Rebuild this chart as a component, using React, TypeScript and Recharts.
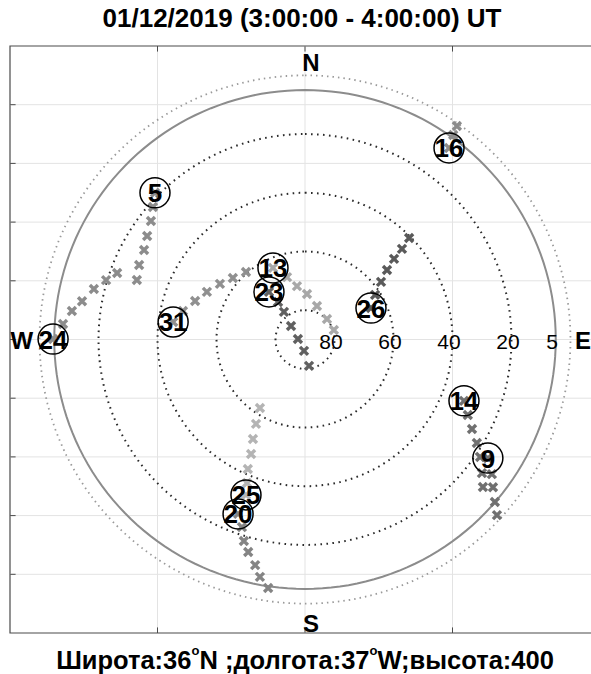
import React from 'react';
import {
  ComposedChart,
  XAxis,
  YAxis,
  Line,
  Scatter,
  ReferenceLine,
  ReferenceArea,
} from 'recharts';

// ---- satellite passes (azimuth / elevation in degrees), first entry = labelled epoch ----
const sat24Az = [270.1, 273.7, 277.0, 279.8, 283.5, 286.7, 289.6];
const sat24El = [4.6, 7.8, 10.4, 13.3, 16.4, 19.6, 22.4];

const sat5Az = [314.5, 311.2, 307.7, 303.4, 299.2, 294.3, 289.6];
const sat5El = [18.7, 21.5, 24.0, 25.9, 27.5, 28.3, 29.5];

const sat31Az = [277.6, 283.2, 289.4, 296.0, 303.3, 310.6, 319.0];
const sat31El = [44.9, 47.5, 50.5, 53.0, 55.5, 57.8, 59.5];

const sat13Az = [336.0, 344.0, 351.5, 2.5, 19.6, 46.9, 71.8];
const sat13El = [63.3, 67.9, 71.6, 74.5, 77.9, 79.8, 79.7];

const sat23Az = [323.0, 324.4, 322.8, 314.1, 274.1, 185.0, 171.4];
const sat23El = [69.7, 74.3, 78.2, 83.4, 87.6, 86.1, 80.9];

const sat26Az = [64.4, 57.4, 52.7, 49.6, 47.7, 46.8, 45.6];
const sat26El = [65.2, 61.8, 57.6, 53.5, 49.2, 44.9, 40.6];

const sat16Az = [36.8, 35.8, 35.3];
const sat16El = [8.5, 4.1, 0.9];

const sat14Az = [111.2, 115.0, 118.3, 121.2, 124.0, 127.2, 129.8];
const sat14El = [32.2, 29.1, 25.7, 21.9, 18.4, 14.7, 11.5];

const sat9Az = [123.1, 125.9, 128.3, 130.7, 132.6];
const sat9El = [16.0, 11.8, 8.8, 5.1, 1.6];

const sat25Az = [200.7, 201.9, 203.7, 205.1, 207.5, 210.0, 213.2];
const sat25El = [33.4, 37.3, 41.8, 46.9, 51.8, 56.8, 62.1];

const sat20Az = [200.9, 198.5, 196.8, 194.9, 192.4, 190.7, 188.4];
const sat20El = [26.4, 22.6, 18.3, 15.1, 11.3, 7.7, 4.4];

const satellites = [
  { prn: '24', az: sat24Az, el: sat24El, color: '#8c8c8c' },
  { prn: '5', az: sat5Az, el: sat5El, color: '#8c8c8c' },
  { prn: '31', az: sat31Az, el: sat31El, color: '#909090' },
  { prn: '13', az: sat13Az, el: sat13El, color: '#a8a8a8' },
  { prn: '23', az: sat23Az, el: sat23El, color: '#606060' },
  { prn: '26', az: sat26Az, el: sat26El, color: '#5a5a5a' },
  { prn: '16', az: sat16Az, el: sat16El, color: '#8c8c8c' },
  { prn: '14', az: sat14Az, el: sat14El, color: '#707070' },
  { prn: '9', az: sat9Az, el: sat9El, color: '#707070' },
  { prn: '25', az: sat25Az, el: sat25El, color: '#b4b4b4' },
  { prn: '20', az: sat20Az, el: sat20El, color: '#848484' },
];

// ---- sky plot furniture ----
const dottedRings = [80, 60, 40, 20];
const maskElevation = 5;
const horizonElevation = 0;
const ringLabels = ['80', '60', '40', '20', '5'];
const ringLabelValues = [80, 60, 40, 20, 5];
const gridX = [-50, 0, 50];
const gridY = [-80, -60, -40, -20, 0, 20, 40, 60, 80];
const compass = [
  { x: 2.0, y: 94.5, label: 'N' },
  { x: 2.0, y: -96.8, label: 'S' },
  { x: -96, y: -0.5, label: 'W' },
  { x: 94.2, y: -0.5, label: 'E' },
];

const titleText = '01/12/2019 (3:00:00 - 4:00:00) UT';

const FONT = '"Liberation Sans", Arial, Helvetica, sans-serif';

// azimuth/elevation -> plane of the sky plot (zenith at origin, north up)
const project = (az: number, el: number) => {
  const r = 90 - el;
  const a = (az * Math.PI) / 180;
  return { x: r * Math.sin(a), y: r * Math.cos(a) };
};

const ringPoints = (el: number) => {
  const pts: { x: number; y: number }[] = [];
  for (let a = 0; a <= 360; a += 2) pts.push(project(a, el));
  return pts;
};

const trackPoints = (az: number[], el: number[]) => az.map((a, i) => project(a, el[i]));

const labelPoints = satellites.map((s) => ({ ...project(s.az[0], s.el[0]), label: s.prn }));

const makeCross = (color: string) => (props: any) => {
  const { cx, cy } = props;
  if (cx == null || cy == null) return <g />;
  const h = 4;
  return (
    <path
      d={`M${cx - h},${cy - h}L${cx + h},${cy + h}M${cx - h},${cy + h}L${cx + h},${cy - h}`}
      stroke={color}
      strokeWidth={3.4}
      fill="none"
    />
  );
};

const SatLabel = (props: any) => {
  const { cx, cy, payload } = props;
  if (cx == null || cy == null) return <g />;
  return (
    <g>
      <circle cx={cx} cy={cy} r={15} fill="none" stroke="#000" strokeWidth={1.5} />
      <text
        x={cx}
        y={cy + 0.5}
        textAnchor="middle"
        dominantBaseline="central"
        fontSize={26}
        fontWeight="bold"
        fontFamily={FONT}
        fill="#000"
      >
        {payload.label}
      </text>
    </g>
  );
};

const CompassLabel = (props: any) => {
  const { cx, cy, payload } = props;
  if (cx == null || cy == null) return <g />;
  return (
    <text
      x={cx}
      y={cy}
      textAnchor="middle"
      dominantBaseline="central"
      fontSize={24}
      fontWeight="bold"
      fontFamily={FONT}
      fill="#000"
    >
      {payload.label}
    </text>
  );
};

const RingLabel = (props: any) => {
  const { cx, cy, payload } = props;
  if (cx == null || cy == null) return <g />;
  return (
    <text
      x={cx}
      y={cy}
      textAnchor="middle"
      dominantBaseline="central"
      fontSize={21}
      fontFamily={FONT}
      fill="#000"
    >
      {payload.label}
    </text>
  );
};

const ringLabelPoints = ringLabelValues.map((v, i) => ({ x: 90 - v - 1.2, y: -0.85, label: ringLabels[i] }));

const tickLen = 1.9;

const degStyle: React.CSSProperties = {
  fontSize: 13,
  verticalAlign: 'top',
  position: 'relative',
  top: -1,
  lineHeight: '13px',
};

export default function App() {
  return (
    <div
      style={{
        position: 'fixed',
        left: 0,
        top: 0,
        width: 591,
        height: 674,
        overflow: 'hidden',
        background: '#fff',
      }}
    >
      <div
        style={{
          position: 'absolute',
          left: 0,
          top: 3,
          width: 604,
          textAlign: 'center',
          fontFamily: FONT,
          fontWeight: 'bold',
          fontSize: 26,
          lineHeight: '30px',
          color: '#000',
          whiteSpace: 'nowrap',
        }}
      >
        {titleText}
      </div>
      <ComposedChart
        width={620}
        height={674}
        margin={{ top: 46, left: 10, right: 20, bottom: 41 }}
      >
        <XAxis type="number" dataKey="x" domain={[-100, 100]} hide allowDataOverflow />
        <YAxis type="number" dataKey="y" domain={[-100, 100]} hide allowDataOverflow />

        {gridX.map((v) => (
          <ReferenceLine key={`gx${v}`} x={v} stroke="#e3e3e3" strokeWidth={1} />
        ))}
        {gridY.map((v) => (
          <ReferenceLine key={`gy${v}`} y={v} stroke="#e3e3e3" strokeWidth={1} />
        ))}

        <ReferenceArea x1={-100} x2={100} y1={-100} y2={100} fill="none" stroke="#4a4a4a" strokeWidth={1.2} />
        {gridX.map((v) => (
          <ReferenceLine key={`tt${v}`} segment={[{ x: v, y: 100 }, { x: v, y: 100 - tickLen }]} stroke="#4a4a4a" />
        ))}
        {gridX.map((v) => (
          <ReferenceLine key={`tb${v}`} segment={[{ x: v, y: -100 }, { x: v, y: -100 + tickLen }]} stroke="#4a4a4a" />
        ))}
        {gridY.map((v) => (
          <ReferenceLine key={`tl${v}`} segment={[{ x: -100, y: v }, { x: -100 + tickLen, y: v }]} stroke="#4a4a4a" />
        ))}
        {gridY.map((v) => (
          <ReferenceLine key={`tr${v}`} segment={[{ x: 100, y: v }, { x: 100 - tickLen, y: v }]} stroke="#4a4a4a" />
        ))}

        {dottedRings.map((el) => (
          <Line
            key={`ring${el}`}
            data={ringPoints(el)}
            dataKey="y"
            type="linear"
            dot={false}
            stroke="#2a2a2a"
            strokeWidth={2}
            strokeDasharray="1.6 4.4"
            isAnimationActive={false}
          />
        ))}
        <Line
          data={ringPoints(horizonElevation)}
          dataKey="y"
          type="linear"
          dot={false}
          stroke="#9a9a9a"
          strokeWidth={1.8}
          strokeDasharray="1.5 4"
          isAnimationActive={false}
        />
        <Line
          data={ringPoints(maskElevation)}
          dataKey="y"
          type="linear"
          dot={false}
          stroke="#8c8c8c"
          strokeWidth={2}
          isAnimationActive={false}
        />

        {satellites.map((s) => (
          <Scatter
            key={`sat${s.prn}`}
            data={trackPoints(s.az, s.el)}
            dataKey="y"
            shape={makeCross(s.color)}
            isAnimationActive={false}
          />
        ))}

        <Scatter data={ringLabelPoints} dataKey="y" shape={RingLabel} isAnimationActive={false} />
        <Scatter data={compass} dataKey="y" shape={CompassLabel} isAnimationActive={false} />
        <Scatter data={labelPoints} dataKey="y" shape={SatLabel} isAnimationActive={false} />
      </ComposedChart>
      <div
        style={{
          position: 'absolute',
          left: 0,
          top: 645,
          width: 610,
          textAlign: 'center',
          fontFamily: FONT,
          fontWeight: 'bold',
          fontSize: 25.5,
          lineHeight: '30px',
          color: '#000',
          whiteSpace: 'nowrap',
        }}
      >
        Широта:36<span style={degStyle}>o</span>N ;долгота:37<span style={degStyle}>o</span>W;высота:400
      </div>
    </div>
  );
}
